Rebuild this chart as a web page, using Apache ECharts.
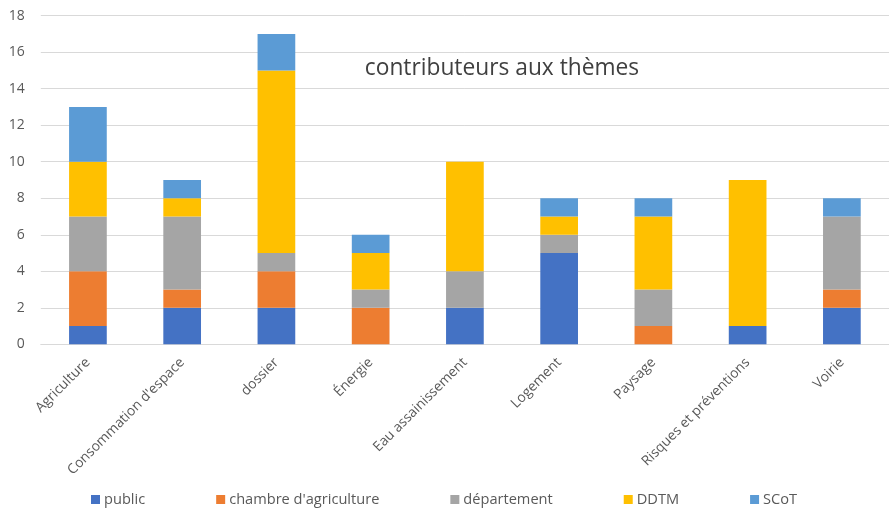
<!DOCTYPE html>
<html><head><meta charset="utf-8">
<script src="https://cdn.jsdelivr.net/npm/echarts@6/dist/echarts.min.js"></script>
<style>html,body{margin:0;padding:0;background:#fff}#c{width:889px;height:508px}</style>
</head><body><div id="c"></div>
<script>
const categories = ["Agriculture","Consommation d'espace","dossier","Énergie","Eau assainissement","Logement","Paysage","Risques et préventions","Voirie"];
const seriesNames = ["public","chambre d'agriculture","département","DDTM","SCoT"];
const publicVals   = [1,2,2,0,2,5,0,1,2];
const chambreVals  = [3,1,2,2,0,0,1,0,1];
const departVals   = [3,4,1,1,2,1,2,0,4];
const ddtmVals     = [3,1,10,2,6,1,4,8,0];
const scotVals     = [3,1,2,1,0,1,1,0,1];
const yTicks = [0,2,4,6,8,10,12,14,16,18];
const titleText = "contributeurs aux thèmes";

const colors = ["#4472C4","#ED7D31","#A5A5A5","#FFC000","#5B9BD5"];
const allVals = [publicVals, chambreVals, departVals, ddtmVals, scotVals];
const font = "'Open Sans', sans-serif";
const chart = echarts.init(document.getElementById('c'), null, {renderer:'canvas'});
chart.setOption({
  animation:false,
  color: colors,
  textStyle:{fontFamily:font},
  title:{text:titleText, left:497, top:52, textAlign:'center',
    textStyle:{fontSize:22.75, fontWeight:'normal', color:'#404040', fontFamily:font}},
  grid:{left:40.8, top:15.7, width:858.6, bottom:163.7, containLabel:false},
  legend:{top:487, left:86, itemWidth:9, itemHeight:9, itemGap:71, icon:'rect',
    textStyle:{fontSize:14.6, color:'#595959', fontFamily:font, padding:[0,0,0,-1]}, data:seriesNames},
  xAxis:{type:'category', data:categories,
    axisLine:{lineStyle:{color:'#D9D9D9'}}, axisTick:{show:false},
    axisLabel:{rotate:45, interval:0, fontSize:13.8, color:'#595959', margin:16, fontFamily:font}},
  yAxis:{type:'value', min:yTicks[0], max:yTicks[yTicks.length-1], interval:2,
    axisLine:{show:false}, axisTick:{show:false},
    splitLine:{lineStyle:{color:'#D9D9D9'}},
    axisLabel:{fontSize:14, color:'#595959', margin:16, fontFamily:font}},
  series: seriesNames.map((n,i)=>({name:n, type:'bar', stack:'total', data:allVals[i], barWidth:'40%'}))
});
</script></body></html>
